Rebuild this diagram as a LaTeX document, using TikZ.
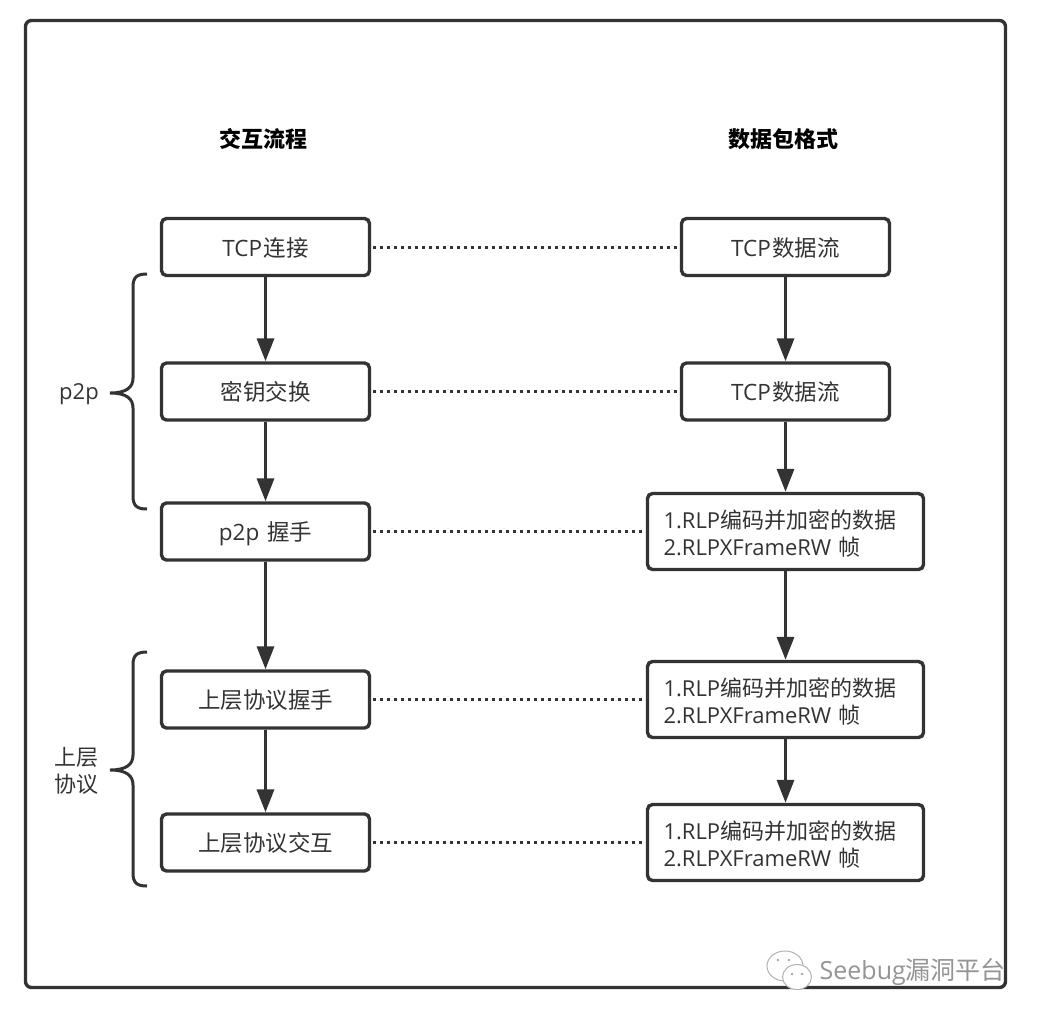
\documentclass[tikz,border=0pt]{standalone}
\usepackage{fontspec}
\setmainfont{Open Sans}
\newfontfamily\cjk{Noto Sans CJK SC}
\usetikzlibrary{
  arrows.meta,
}
\definecolor{ink}{HTML}{333333}

\begin{document}
\begin{tikzpicture}[
    x=1pt, y=-1pt,
    line width=3.4pt,
    every node/.style={font=\fontsize{22}{27}\selectfont, text=ink},
    arr/.style={ink, -{Stealth[length=23pt, width=17pt, inset=0pt]}},
    dots/.style={ink, line width=3pt, dash pattern=on 3pt off 4pt},
    brc/.style={ink, line width=3pt},
    head/.style={font=\fontsize{22}{26}\selectfont\cjk\bfseries, text=black},
    box/.style={draw=ink, rounded corners=5pt, minimum height=57pt, minimum width=208pt, inner sep=0pt, font=\fontsize{22.5}{27}\selectfont, text height=20pt, text depth=2pt},
    wide/.style={draw=ink, rounded corners=5pt, minimum height=76pt, text width=244pt, align=left, minimum width=276pt, inner xsep=15.5pt, inner ysep=0pt, text height=6pt, text depth=12pt},
    wmark/.style={font=\fontsize{25}{30}\selectfont, text=black!42},
  ]
  \useasboundingbox (0,0) rectangle (1038,1020);
  \node[draw=ink, rounded corners=6pt, minimum width=980pt, minimum height=967pt] (frame) at (515.5,504) {};

  \node[head] (hl) at (263,139) {交互流程};
  \node[head] (hr) at (783.5,139) {数据包格式};

  \node[box] (l0) at (265.5,247) {TCP\kern1.5pt{\cjk 连接}};
  \node[box] (l1) at (265.5,391.5) {\cjk 密钥交换};
  \node[box] (l2) at (265.5,531.5) {p2p\kern2pt{} {\cjk 握手}};
  \node[box] (l3) at (265.5,699.5) {\cjk 上层协议握手};
  \node[box] (l4) at (265.5,842.5) {\cjk 上层协议交互};

  \node[box] (r0) at (785.5,247) {TCP\kern1.5pt{\cjk 数据流}};
  \node[box] (r1) at (785.5,391.5) {TCP\kern1.5pt{\cjk 数据流}};
  \node[wide] (r2) at (785.5,531.5) {1.RLP{\cjk 编码并加密的数据}\\2.RLPXFrameRW {\cjk 帧}};
  \node[wide] (r3) at (785.5,699.5) {1.RLP{\cjk 编码并加密的数据}\\2.RLPXFrameRW {\cjk 帧}};
  \node[wide] (r4) at (785.5,842.5) {1.RLP{\cjk 编码并加密的数据}\\2.RLPXFrameRW {\cjk 帧}};

  \foreach \i/\j in {0/1,1/2,2/3,3/4} {
      \draw[arr] (l\i) -- (l\j);
      \draw[arr] (r\i) -- (r\j);
    }
  \foreach \i in {0,...,4} {
      \draw[dots] ([xshift=2pt]l\i.east) -- ([xshift=-2pt]r\i.west);
    }

  % braces
  \foreach \t/\m/\b in {274/393/509, 652/770/886} {
      \draw[brc] (147,\t) .. controls (137,\t) and (133,\t+3) .. (133,\t+13)
        -- (133,\m-15) .. controls (133,\m-6) and (127,\m) .. (110,\m)
        .. controls (127,\m) and (133,\m+6) .. (133,\m+15)
        -- (133,\b-13) .. controls (133,\b-3) and (137,\b) .. (147,\b);
    }
  \node (p2p) at (79,394) {p2p};
  \node[align=center, font=\fontsize{22}{27}\selectfont\cjk] (upper) at (76,771) {上层\\协议};

  % watermark
  \draw[black!30, line width=1pt, fill=white] (785,966) ellipse (18pt and 15pt);
  \draw[black!30, line width=1pt, fill=white] (797,977) ellipse (14.5pt and 12.5pt);
  \foreach \x/\y in {778/960,789/960,792/974,802/974} {
      \fill[black!35] (\x,\y) circle (1.3pt);
    }
  \node[wmark, anchor=west, inner sep=0pt] (seebug) at (818,972) {Seebug{\cjk 漏洞平台}};
\end{tikzpicture}
\end{document}
